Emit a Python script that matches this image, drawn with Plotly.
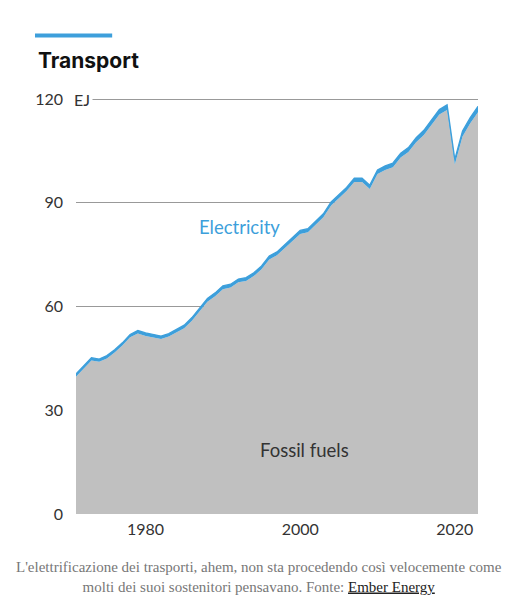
import plotly.graph_objects as go

# data (EJ)
years = list(range(1971, 2024))

fossil_fuels = [
    39.7, 42.2, 44.4, 44.0, 45.0, 46.7, 48.7, 51.1, 52.2, 51.5,   # 1971-1980
    51.0, 50.6, 51.3, 52.6, 53.7, 55.9, 58.6, 61.4, 63.0, 65.0,   # 1981-1990
    65.5, 67.0, 67.4, 68.8, 70.8, 73.6, 74.8, 76.8, 79.0, 81.0,   # 1991-2000
    81.5, 83.8, 85.8, 89.2, 91.4, 93.4, 96.0, 96.0, 94.0, 98.3,   # 2001-2010
    99.5, 100.3, 103.1, 104.7, 107.5, 109.6, 112.6, 115.5, 116.8, 101.1,  # 2011-2020
    109.2, 113.0, 116.2,                                           # 2021-2023
]

electricity = [
    0.8, 0.8, 0.8, 0.8, 0.8, 0.8, 0.8, 0.8, 0.85, 0.85,
    0.85, 0.85, 0.85, 0.9, 0.9, 0.9, 0.9, 0.95, 0.95, 0.95,
    0.95, 0.95, 0.95, 0.95, 0.95, 1.0, 1.0, 1.0, 1.0, 1.0,
    1.0, 1.0, 1.0, 1.05, 1.05, 1.05, 1.1, 1.1, 1.1, 1.15,
    1.15, 1.2, 1.2, 1.25, 1.3, 1.35, 1.4, 1.45, 1.5, 1.45,
    1.55, 1.6, 1.7,
]

y_ticks = [0, 30, 60, 90, 120]
x_ticks = [1980, 2000, 2020]

grey = "#c0c0c0"
blue = "#3d9fdb"
num_font = "Lato"

fig = go.Figure()

fig.add_trace(go.Scatter(
    x=years, y=fossil_fuels, name="Fossil fuels",
    stackgroup="one", mode="lines",
    line=dict(width=0, color=grey), fillcolor=grey,
))
fig.add_trace(go.Scatter(
    x=years, y=electricity, name="Electricity",
    stackgroup="one", mode="lines",
    line=dict(width=1.3, color=blue), fillcolor=blue,
))

# series labels
fig.add_annotation(x=1992.2, y=83, text="Electricity", showarrow=False,
                   font=dict(family=num_font, size=18.5, color=blue))
fig.add_annotation(x=2000.6, y=18.5, text="Fossil fuels", showarrow=False,
                   font=dict(family=num_font, size=18.5, color="#333333"))

# unit next to the top tick, white box hides the gridline start
fig.add_annotation(x=0, xref="paper", xanchor="left", xshift=-5,
                   y=120, yref="y", text="EJ", showarrow=False,
                   bgcolor="white", borderpad=2,
                   font=dict(family=num_font, size=16, color="#333333"))

# title + blue bar
fig.add_annotation(x=-0.099, xref="paper", xanchor="left",
                   y=1.091, yref="paper", yanchor="middle",
                   text="<b>Transport</b>", showarrow=False,
                   font=dict(family="Inter", size=21, color="#111111"))
fig.add_shape(type="line", xref="paper", yref="paper",
              x0=-0.102, x1=0.09, y0=1.15, y1=1.15,
              line=dict(color=blue, width=4))

# caption
fig.add_annotation(
    x=0.5, xref="paper", xanchor="center", xshift=-18,
    y=-0.103, yref="paper", yanchor="top",
    text=("L'elettrificazione dei trasporti, ahem, non sta procedendo così velocemente come<br>"
          "molti dei suoi sostenitori pensavano. Fonte: "
          "<span style='color:#222222'><u>Ember Energy</u></span>"),
    showarrow=False, align="center",
    font=dict(family="Liberation Serif", size=15, color="#777777"),
)

# page body has an 8px margin, so the figure is a bit smaller than the window
fig.update_layout(
    width=522, height=602,
    margin=dict(l=68, r=52, t=90, b=96),
    paper_bgcolor="white", plot_bgcolor="white",
    showlegend=False,
    font=dict(family=num_font, color="#333333"),
)
fig.update_xaxes(
    range=[1971, 2023], tickvals=x_ticks,
    showgrid=False, zeroline=False, showline=False,
    ticks="", ticklabelstandoff=4,
    tickfont=dict(family=num_font, size=16, color="#333333"),
)
fig.update_yaxes(
    range=[0, 120.3], tickvals=y_ticks,
    showgrid=True, gridcolor="#999999", gridwidth=1,
    zeroline=False, showline=False,
    ticks="", ticklabelstandoff=12,
    tickfont=dict(family=num_font, size=16, color="#333333"),
)

fig.write_html("out.html")
